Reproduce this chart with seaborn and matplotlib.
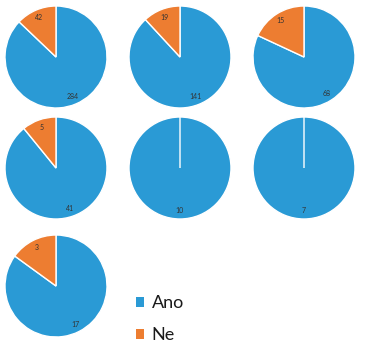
import matplotlib
matplotlib.use("Agg")
import matplotlib.pyplot as plt
import seaborn as sns

sns.set_theme(style="white")
plt.rcParams['font.family'] = ['Lato', 'DejaVu Sans']

categories = ["Ano", "Ne"]
ano_values = [284, 141, 68, 41, 10, 7, 17]
ne_values = [42, 19, 15, 5, 0, 0, 3]

colors = ["#2A9AD5", "#ED7D31"]

W, H = 380, 363
fig = plt.figure(figsize=(W / 100, H / 100), dpi=100)

centers = [(56, 57), (180, 57), (304, 57),
           (56, 168), (180, 168), (304, 168),
           (56, 286)]
r = 51.5

wedges_ref = None
for (cx, cy), a, n in zip(centers, ano_values, ne_values):
    ax = fig.add_axes([(cx - r) / W, (H - cy - r) / H, 2 * r / W, 2 * r / H])
    vals = [a, n]
    labels = [str(v) if v > 0 else "" for v in vals]
    wedges, texts = ax.pie(vals, colors=colors, startangle=90, counterclock=False,
                           labels=labels, labeldistance=0.84,
                           wedgeprops=dict(edgecolor="white", linewidth=1.0),
                           textprops=dict(fontsize=5, color="#333333"))
    for t in texts:
        t.set_ha("center")
        t.set_va("center")
    ax.set_xlim(-1.01, 1.01)
    ax.set_ylim(-1.01, 1.01)
    ax.set_aspect("equal")
    ax.axis("off")
    if wedges_ref is None:
        wedges_ref = wedges

leg = fig.legend(wedges_ref, categories, loc="upper left",
                 bbox_to_anchor=(120 / W, 1 - 279 / H), frameon=False,
                 handlelength=0.45, handleheight=0.45, handletextpad=0.4,
                 labelspacing=0.9, fontsize=13)
for h in leg.legend_handles:
    h.set_edgecolor("none")
for t in leg.get_texts():
    t.set_color("#1a1a1a")

fig.savefig("out.png", dpi=100)
